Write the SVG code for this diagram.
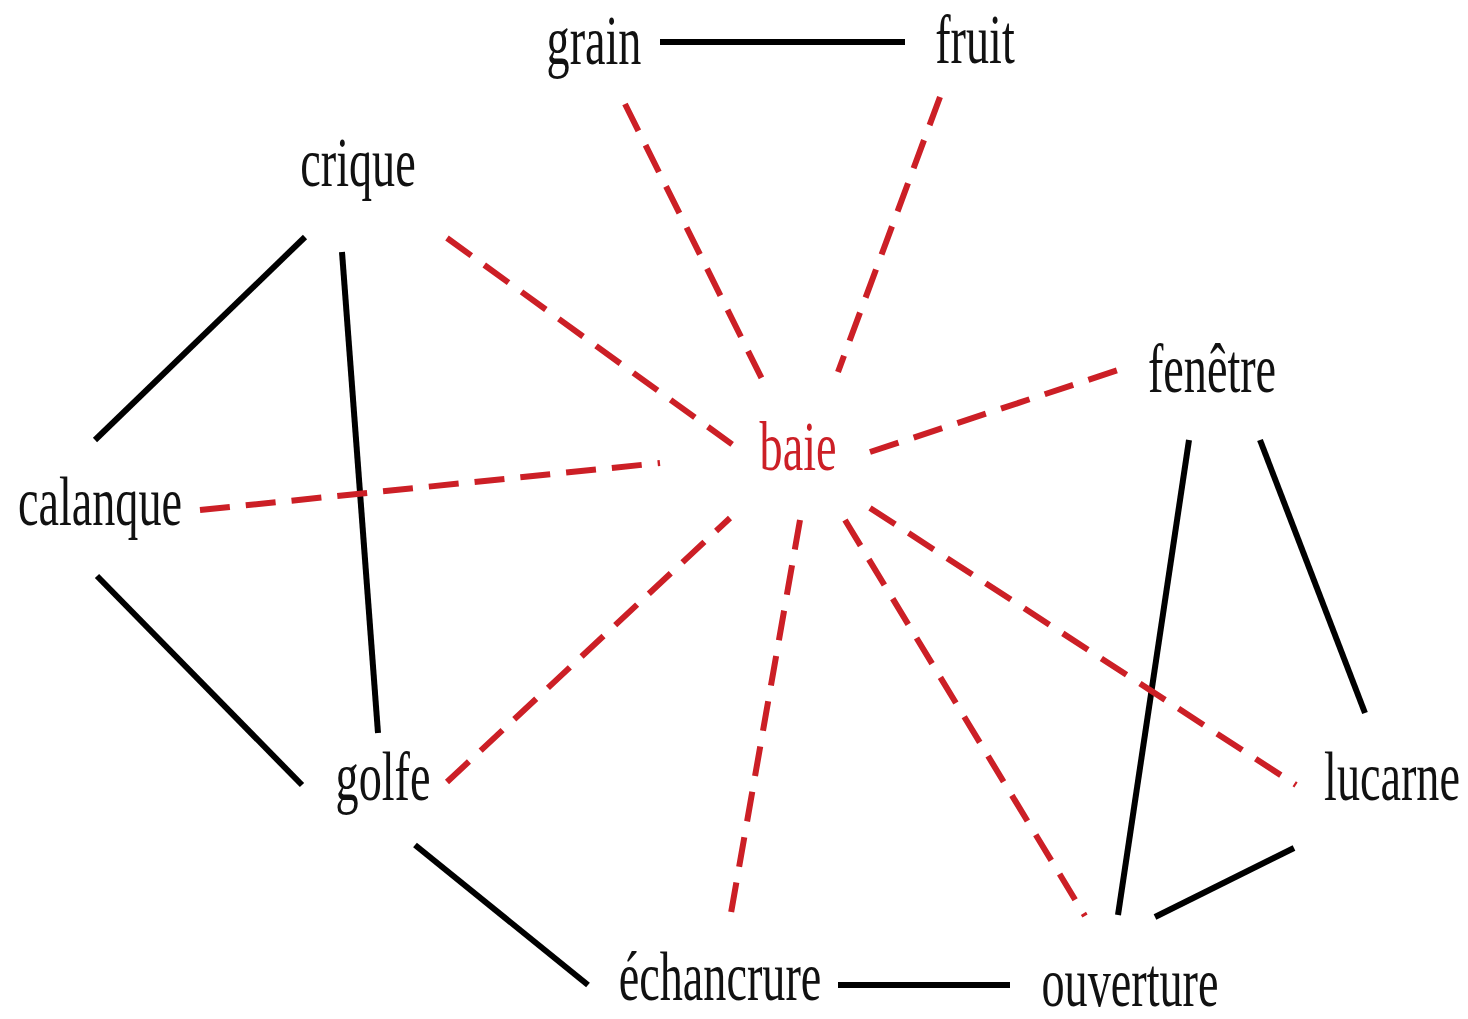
<svg xmlns="http://www.w3.org/2000/svg" width="1468" height="1019" viewBox="0 0 1468 1019">
<style>
text{font-family:"Liberation Serif","Times New Roman",serif;font-size:70px;text-anchor:middle;fill:#111}
.red{fill:#cc1f26}
.s{stroke:#000;fill:none;stroke-width:6}
.d{stroke:#cc1f26;fill:none;stroke-width:6;stroke-dasharray:30 16}
</style>
<rect width="1468" height="1019" fill="#fff"/>
<g id="connectors">
<line class="s" x1="660" y1="42" x2="905" y2="42" stroke-width="7"/>
<line class="s" x1="305" y1="237" x2="95" y2="440"/>
<line class="s" x1="342" y1="252" x2="378" y2="733" stroke-width="4"/>
<line class="s" x1="97" y1="576" x2="302" y2="785"/>
<line class="s" x1="415" y1="845" x2="588" y2="985"/>
<line class="s" x1="838" y1="985" x2="1010" y2="985" stroke-width="7"/>
<line class="s" x1="1189" y1="440" x2="1118" y2="915" stroke-width="5"/>
<line class="s" x1="1260" y1="440" x2="1365" y2="713" stroke-width="5"/>
<line class="s" x1="1155" y1="917" x2="1294" y2="848"/>
<line class="d" x1="625" y1="104" x2="765" y2="385"/>
<line class="d" x1="940" y1="97" x2="838" y2="372"/>
<line class="d" x1="447" y1="238" x2="733" y2="445"/>
<line class="d" x1="200" y1="510" x2="660" y2="463"/>
<line class="d" x1="870" y1="452" x2="1118" y2="370"/>
<line class="d" x1="447" y1="782" x2="730" y2="518"/>
<line class="d" x1="800" y1="520" x2="731" y2="913"/>
<line class="d" x1="845" y1="520" x2="1085" y2="916"/>
<line class="d" x1="870" y1="508" x2="1296" y2="785"/>
</g>
<g id="grain"><text transform="translate(594,64) scale(0.66,1)">grain</text></g>
<g id="fruit"><text transform="translate(975,63) scale(0.66,1)">fruit</text></g>
<g id="crique"><text transform="translate(358,186) scale(0.66,1)">crique</text></g>
<g id="calanque"><text transform="translate(100,525) scale(0.66,1)">calanque</text></g>
<g id="baie"><text class="red" transform="translate(798,470) scale(0.66,1)">baie</text></g>
<g id="fenetre"><text transform="translate(1212,392) scale(0.66,1)">fenêtre</text></g>
<g id="golfe"><text transform="translate(383,800) scale(0.66,1)">golfe</text></g>
<g id="lucarne"><text transform="translate(1392,800) scale(0.66,1)">lucarne</text></g>
<g id="echancrure"><text transform="translate(720,1000) scale(0.66,1)">échancrure</text></g>
<g id="ouverture"><text transform="translate(1130,1006) scale(0.66,1)">ouverture</text></g>
</svg>
